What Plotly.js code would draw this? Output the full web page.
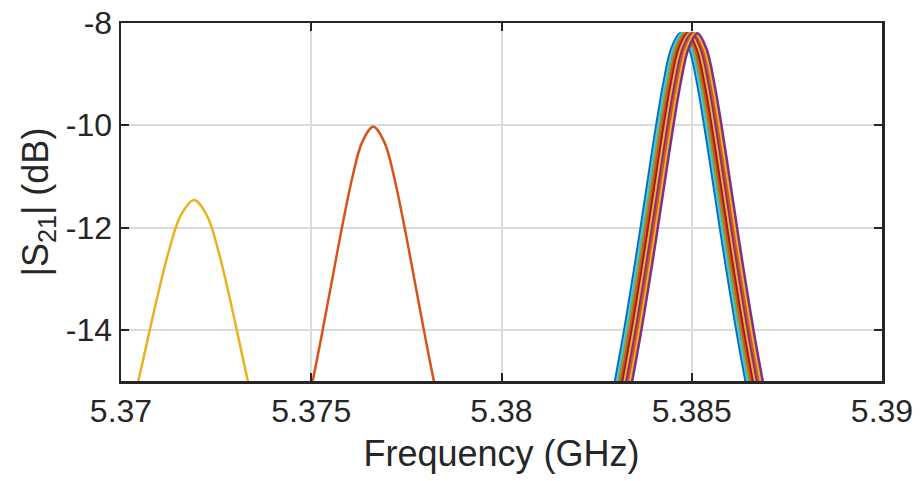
<!DOCTYPE html>
<html>
<head>
<meta charset="utf-8">
<script src="https://cdn.plot.ly/plotly-3.0.1.min.js"></script>
<style>html,body{margin:0;padding:0;background:#fff;}#chart{width:923px;height:481px;}</style>
</head>
<body>
<div id="chart"></div>
<script>
// ---- data ----
const xTickVals = [5.37, 5.375, 5.38, 5.385, 5.39];
const xTickText = ['5.37', '5.375', '5.38', '5.385', '5.39'];
const yTickVals = [-14, -12, -10, -8];
const yTickText = ['-14', '-12', '-10', '-8'];

// resonance near 5.372 GHz (yellow)
const yellowFreq = [5.370162, 5.370619, 5.370923, 5.371257, 5.371571, 5.37192, 5.372256, 5.37256, 5.372882, 5.373175, 5.373616];
const yellowS21  = [-15.96, -14.46, -13.46, -12.46, -11.76, -11.46, -11.76, -12.46, -13.46, -14.46, -15.96];

// resonance near 5.3766 GHz (orange)
const orangeFreq = [5.374753, 5.375164, 5.375546, 5.375799, 5.376077, 5.376339, 5.37663, 5.376921, 5.377183, 5.377461, 5.377714, 5.378096, 5.378507];
const orangeS21  = [-16.03, -14.53, -13.03, -12.03, -11.03, -10.33, -10.03, -10.33, -11.03, -12.03, -13.03, -14.53, -16.03];

// cluster of resonances near 5.385 GHz
const clusterS21 = [-15.7, -14.2, -12.7, -11.2, -10.2, -9.2, -8.5, -8.2, -8.5, -9.2, -10.2, -11.2, -12.7, -14.2, -15.7];
const clusterFreq1  = [5.382808, 5.383181, 5.383513, 5.383822, 5.384027, 5.384252, 5.384465, 5.38470, 5.384935, 5.385148, 5.385373, 5.385578, 5.385887, 5.386219, 5.386592];
const clusterFreq2  = [5.382858, 5.383231, 5.383563, 5.383872, 5.384077, 5.384302, 5.384515, 5.38475, 5.384985, 5.385198, 5.385423, 5.385628, 5.385937, 5.386269, 5.386642];
const clusterFreq3  = [5.382908, 5.383281, 5.383613, 5.383922, 5.384127, 5.384352, 5.384565, 5.38480, 5.385035, 5.385248, 5.385473, 5.385678, 5.385987, 5.386319, 5.386692];
const clusterFreq4  = [5.382958, 5.383331, 5.383663, 5.383972, 5.384177, 5.384402, 5.384615, 5.38485, 5.385085, 5.385298, 5.385523, 5.385728, 5.386037, 5.386369, 5.386742];
const clusterFreq5  = [5.383008, 5.383381, 5.383713, 5.384022, 5.384227, 5.384452, 5.384665, 5.38490, 5.385135, 5.385348, 5.385573, 5.385778, 5.386087, 5.386419, 5.386792];
const clusterFreq6  = [5.383058, 5.383431, 5.383763, 5.384072, 5.384277, 5.384502, 5.384715, 5.38495, 5.385185, 5.385398, 5.385623, 5.385828, 5.386137, 5.386469, 5.386842];
const clusterFreq7  = [5.383108, 5.383481, 5.383813, 5.384122, 5.384327, 5.384552, 5.384765, 5.38500, 5.385235, 5.385448, 5.385673, 5.385878, 5.386187, 5.386519, 5.386892];
const clusterFreq8  = [5.383158, 5.383531, 5.383863, 5.384172, 5.384377, 5.384602, 5.384815, 5.38505, 5.385285, 5.385498, 5.385723, 5.385928, 5.386237, 5.386569, 5.386942];
const clusterFreq9  = [5.383208, 5.383581, 5.383913, 5.384222, 5.384427, 5.384652, 5.384865, 5.38510, 5.385335, 5.385548, 5.385773, 5.385978, 5.386287, 5.386619, 5.386992];
const clusterFreq10 = [5.383258, 5.383631, 5.383963, 5.384272, 5.384477, 5.384702, 5.384915, 5.38515, 5.385385, 5.385598, 5.385823, 5.386028, 5.386337, 5.386669, 5.387042];

// ---- styling ----
const C = {blue:'#0072BD', orange:'#D95319', yellow:'#EDB120', purple:'#7E2F8E', green:'#77AC30', lblue:'#4DBEEE', dred:'#A2142F'};
const clusterSets = [
  [clusterFreq1, C.blue], [clusterFreq2, C.lblue], [clusterFreq3, C.green], [clusterFreq4, C.orange],
  [clusterFreq5, C.dred], [clusterFreq6, C.yellow], [clusterFreq7, C.purple], [clusterFreq8, C.orange],
  [clusterFreq9, C.yellow], [clusterFreq10, C.purple]
];
const LW = 2.5;
const mk = (x, y, color) => ({x, y, type:'scatter', mode:'lines', line:{color, width:LW, shape:'spline', smoothing:1}, hoverinfo:'skip', showlegend:false});

const traces = [];
clusterSets.forEach(([f, c]) => traces.push(mk(f, clusterS21, c)));
traces.push(mk(orangeFreq, orangeS21, C.orange));
traces.push(mk(yellowFreq, yellowS21, C.yellow));

const FONT = 'Liberation Sans, Arial, Helvetica, sans-serif';
const axisCommon = {
  showline:true, linecolor:'#262626', linewidth:2.5, mirror:'ticks',
  ticks:'inside', ticklen:8, tickwidth:2, tickcolor:'#262626',
  showgrid:true, gridcolor:'#dbdbdb', gridwidth:2, zeroline:false,
  tickfont:{family:FONT, size:32, color:'#262626'}
};
const layout = {
  width:923, height:481,
  margin:{l:121, r:41, t:23, b:100},
  paper_bgcolor:'#ffffff', plot_bgcolor:'#ffffff',
  font:{family:FONT, color:'#262626'},
  xaxis:Object.assign({}, axisCommon, {
    range:[5.37, 5.39], tickmode:'array', tickvals:xTickVals, ticktext:xTickText,
    title:{text:'Frequency (GHz)', font:{family:FONT, size:36, color:'#262626'}, standoff:13}
  }),
  yaxis:Object.assign({}, axisCommon, {
    range:[-15, -8], tickmode:'array', tickvals:yTickVals, ticktext:yTickText,
    title:{text:'|S<sub>21</sub>| (dB)', font:{family:FONT, size:36, color:'#262626'}, standoff:6}
  })
};
Plotly.newPlot('chart', traces, layout, {staticPlot:true, displayModeBar:false});
</script>
</body>
</html>
